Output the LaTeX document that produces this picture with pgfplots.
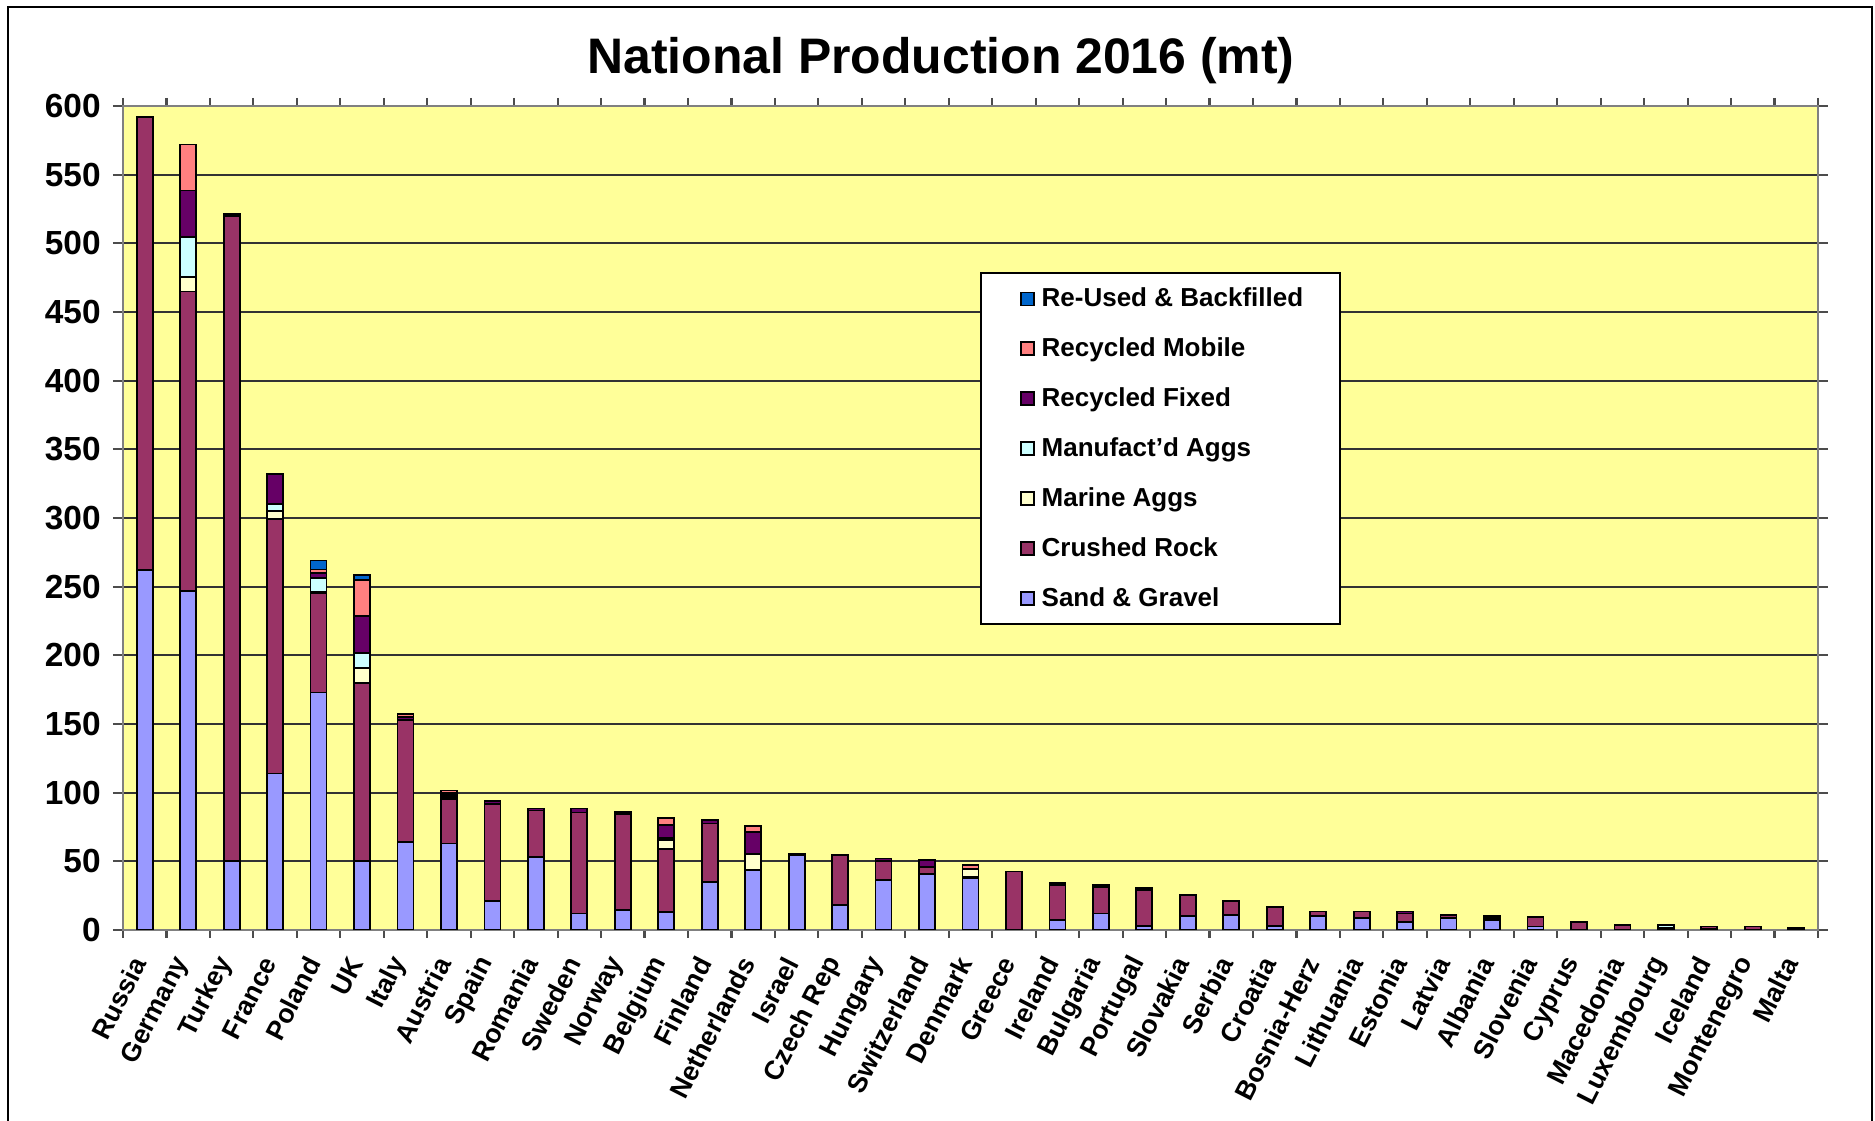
\documentclass[border=0pt]{standalone}
\usepackage{pgfplots}
\pgfplotsset{compat=1.18}
\usepackage{pgfplotstable}
\usepackage{fontspec}
\setmainfont{Liberation Sans}
\definecolor{cSG}{HTML}{9999FF}
\definecolor{cCR}{HTML}{993366}
\definecolor{cMA}{HTML}{FFFFCC}
\definecolor{cMF}{HTML}{CCFFFF}
\definecolor{cRF}{HTML}{660066}
\definecolor{cRM}{HTML}{FF8080}
\definecolor{cRU}{HTML}{0066CC}
\definecolor{bgY}{HTML}{FFFF99}
\pgfplotstableread{
x SG CR MA MF RF RM RU
0 262 330 0 0 0 0 0
1 247 218 10.5 29 34 33.5 0
2 50 470 0 0 1.5 0 0
3 114 185 6 5 22 0 0
4 173 72.5 1 10 3.5 2.5 6.5
5 50 130 11 10.5 27 26.5 3.5
6 64 89 0 0 2 2.5 0
7 63 32.5 1.5 1.5 1 2 0
8 21 71 0 0 2 0 0
9 53 34 0 0 1.5 0 0
10 12 73.5 0 0 3 0 0
11 14.5 70 0 0 1.5 0 0
12 13 46 6.5 1.5 9.5 5 0
13 35 42.5 0 0 2.5 0 0
14 43.5 0 12 0 16 4 0
15 54.5 0 0 0 1 0 0
16 18 36.5 0 0 0 0 0
17 36.5 14 0 0 1.5 0 0
18 41 5 0 0 5 0 0
19 37.5 1 6 0 0 3 0
20 0 42.5 0 0 0 0 0
21 7.5 25 0 0 1.5 0 0
22 12 19.5 0 0 1.5 0 0
23 3 26 0 0 1.5 0 0
24 10 15.5 0 0 0 0 0
25 11 10 0 0 0 0 0
26 3 14 0 0 0 0 0
27 10 3.5 0 0 0 0 0
28 8.5 5 0 0 0 0 0
29 6 6 0 0 1.5 0 0
30 8.5 2.5 0 0 0 0 0
31 7 2 0 0 1 0 0
32 2.5 7 0 0 0 0 0
33 0 6 0 0 0 0 0
34 0 3.5 0 0 0 0 0
35 0.5 1 0 2 0 0 0
36 1 1.5 0 0 0 0 0
37 0 2.5 0 0 0 0 0
38 0 1.5 0 0 0 0 0
}\datatable
\pgfplotsset{
  bs/.style={fill=#1, draw=black, line width=0.5pt,
    legend image code/.code={\path (0cm,0cm); \draw[##1, line width=0.5pt] (0.09cm,-0.065cm) rectangle (0.22cm,0.065cm);}},
}
\begin{document}
\begin{tikzpicture}
\path[use as bounding box] (-1.23,-1.91) rectangle (17.52,9.30);
\draw[line width=0.8pt] (-1.15,-1.95) -- (-1.15,9.23) -- (17.49,9.23) -- (17.49,-1.95);
\node[font=\bfseries\fontsize{14.2}{17}\selectfont, anchor=base] at (8.18,8.56) {National Production 2016 (mt)};
\begin{axis}[
  at={(0,0)}, anchor=south west,
  scale only axis, width=16.95cm, height=8.24cm,
  ybar stacked, bar width=0.16cm,
  xmin=-0.5, xmax=38.5, ymin=0, ymax=600,
  axis background/.style={fill=bgY},
  axis line style={black!50, line width=0.6pt},
  ymajorgrids, grid style={black!80, line width=0.5pt},
  ytick={0,50,...,600},
  tick align=outside,
  major tick length=0.1cm, minor tick length=0.08cm,
  tick style={black!70, line width=0.6pt},
  xtick={0,...,38},
  major x tick style={draw=none},
  minor xtick={-0.5,0.5,...,38.5},
  xticklabels={Russia,Germany,Turkey,France,Poland,UK,Italy,Austria,Spain,Romania,Sweden,Norway,Belgium,Finland,Netherlands,Israel,Czech Rep,Hungary,Switzerland,Denmark,Greece,Ireland,Bulgaria,Portugal,Slovakia,Serbia,Croatia,Bosnia-Herz,Lithuania,Estonia,Latvia,Albania,Slovenia,Cyprus,Macedonia,Luxembourg,Iceland,Montenegro,Malta},
  xticklabel shift=0.08cm,
  xticklabel style={rotate=63, anchor=east, font=\bfseries\fontsize{7.6}{9}\selectfont},
  yticklabel style={font=\bfseries\fontsize{9.5}{11}\selectfont},
  /pgf/number format/assume math mode=true,
  reverse legend,
  legend cell align=left,
  legend style={at={(0.5056,0.7985)}, anchor=north west, draw=black, fill=white, line width=0.5pt,
    font=\bfseries\fontsize{7.4}{8.8}\selectfont,
    nodes={text height=6pt, text depth=1.6pt, inner ysep=3.3pt},
    row sep=0pt, inner xsep=0.3cm, inner ysep=0.3pt},
]
\addplot[bs=cSG] table[x=x, y=SG] {\datatable};
\addplot[bs=cCR] table[x=x, y=CR] {\datatable};
\addplot[bs=cMA] table[x=x, y=MA] {\datatable};
\addplot[bs=cMF] table[x=x, y=MF] {\datatable};
\addplot[bs=cRF] table[x=x, y=RF] {\datatable};
\addplot[bs=cRM] table[x=x, y=RM] {\datatable};
\addplot[bs=cRU] table[x=x, y=RU] {\datatable};
\legend{Sand \& Gravel, Crushed Rock, Marine Aggs, Manufact'd Aggs, Recycled Fixed, Recycled Mobile, Re-Used \& Backfilled}
\end{axis}
\end{tikzpicture}
\end{document}
